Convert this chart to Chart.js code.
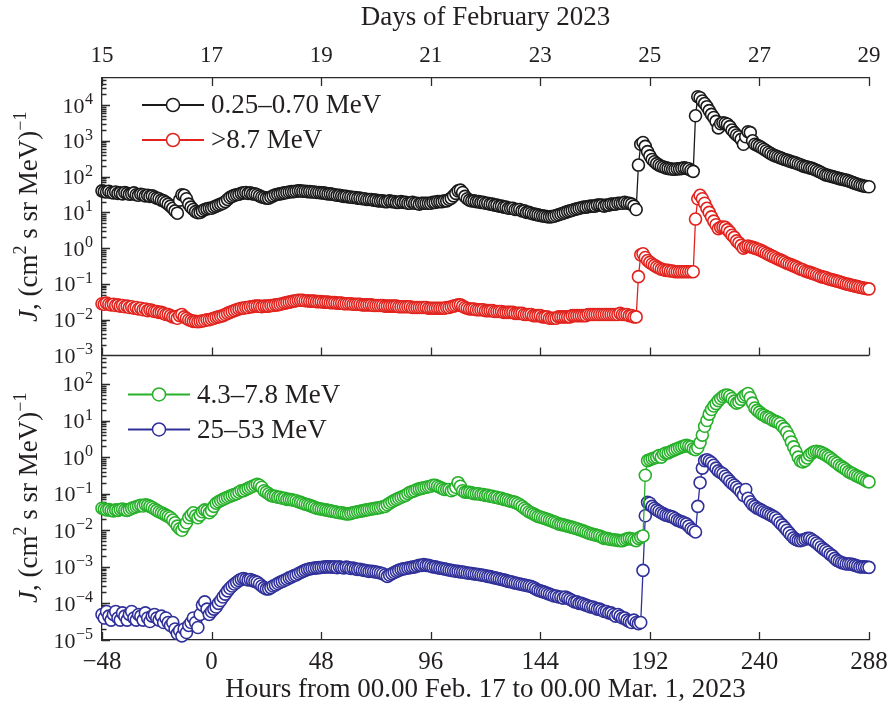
<!DOCTYPE html>
<html><head><meta charset="utf-8">
<script src="https://cdn.jsdelivr.net/npm/chart.js@4/dist/chart.umd.min.js"></script>
<style>html,body{margin:0;padding:0;background:#fff;}canvas{display:block;}</style>
</head><body>
<canvas id="c" width="891" height="705"></canvas>
<script>
// ---------- data ----------
const HOURS = Array.from({length: 337}, (_, i) => i - 48); // hours from 00.00 Feb 17
const X_TICKS = [-48, 0, 48, 96, 144, 192, 240, 288];
const DAY_LABELS = ['15', '17', '19', '21', '23', '25', '27', '29'];
const TOP_DECADES = [-3, -2, -1, 0, 1, 2, 3, 4];
const BOT_DECADES = [-5, -4, -3, -2, -1, 0, 1, 2];
const TOP_TITLE = 'Days of February 2023';
const X_TITLE = 'Hours from 00.00 Feb. 17 to 00.00 Mar. 1, 2023';
const NAMES = ['0.25\u20130.70 MeV', '>8.7 MeV', '4.3\u20137.8 MeV', '25\u201353 MeV'];

const E_LOW = [ // 0.25-0.70 MeV
40,38,37,39,36,35,37,34,35,33,36,34,32,33,35,31,30,32,31,29,30,28,29,27,
25,24,22,21,19,17,15,13,11,9.5,22,31,30,24,17,14,12,10.5,9.8,10,11,12,12.5,13,
13,14,15,16,17,18,20,23,26,28,30,31,32,34,35,36,34,35,33,33,31,29,27,26,
25,25,27,29,31,32,33,34,35,36,37,38,38,39,40,40,39,39,38,38,37,37,36,36,
35,35,34,33,33,32,31,30,30,29,28,28,27,27,26,26,25,25,24,24,23,23,23,22,
22,21,21,21,20,20,21,20,20,19,19,20,19,19,18,18,19,18,18,17,18,18,18,18,
18,19,19,20,20,20,21,21,23,25,29,34,40,42,36,28,24,22,21,21,20,20,19,19,
18,18,17,17,16,16,15,15,14,14,13,13,13,12,12,12,11,11,10,10,9.5,9,8.8,8.5,
8.2,8,7.8,7.6,7.5,7.6,7.8,8.2,8.6,9,9.5,10,10.5,11,11.5,12,12.5,13,13.5,14,14,14.5,15,15,
15,16,16,16,15,16,16,17,17,17,18,18,18,19,18,18,17,15,12,210,800,900,700,500,
380,300,260,230,210,195,185,175,170,165,160,160,165,165,170,175,170,165,150,140,5000,17000,16000,13000,
11000,9000,7000,5500,4500,3500,2300,3000,3200,3100,2900,2500,2000,1700,1450,1300,1100,800,1300,1800,1700,1000,800,750,
700,640,580,530,480,440,400,380,360,340,320,300,290,275,260,250,240,225,215,200,190,185,175,170,
160,150,140,130,120,112,108,104,100,96,92,88,85,82,80,76,72,68,64,61,58,56,54,53,52];

const E_GT87 = [ // >8.7 MeV
0.028,0.027,0.029,0.027,0.026,0.027,0.025,0.026,0.024,0.025,0.023,0.024,0.022,0.023,0.021,0.022,0.020,0.021,0.019,0.020,0.018,0.019,0.018,0.017,
0.017,0.016,0.016,0.015,0.014,0.014,0.013,0.012,0.012,0.011,0.013,0.014,0.012,0.011,0.010,0.0095,0.009,0.009,0.0088,0.009,0.0092,0.0095,0.010,0.010,
0.0105,0.011,0.0115,0.012,0.0125,0.013,0.014,0.015,0.016,0.017,0.018,0.019,0.020,0.021,0.021,0.022,0.022,0.023,0.023,0.024,0.024,0.024,0.023,0.024,
0.024,0.024,0.025,0.025,0.026,0.026,0.027,0.028,0.029,0.030,0.031,0.032,0.033,0.034,0.035,0.035,0.035,0.034,0.034,0.033,0.033,0.033,0.032,0.032,
0.032,0.031,0.031,0.031,0.030,0.030,0.030,0.029,0.029,0.029,0.028,0.028,0.028,0.028,0.027,0.027,0.027,0.027,0.026,0.026,0.026,0.026,0.026,0.025,
0.025,0.025,0.025,0.025,0.024,0.024,0.024,0.024,0.024,0.024,0.023,0.023,0.023,0.023,0.023,0.023,0.022,0.022,0.022,0.022,0.022,0.022,0.022,0.021,
0.021,0.021,0.021,0.021,0.021,0.021,0.021,0.022,0.022,0.023,0.024,0.025,0.026,0.026,0.024,0.022,0.021,0.020,0.020,0.020,0.019,0.019,0.019,0.019,
0.018,0.018,0.018,0.018,0.017,0.017,0.017,0.017,0.016,0.016,0.016,0.016,0.016,0.015,0.015,0.015,0.015,0.014,0.014,0.014,0.014,0.013,0.013,0.013,
0.013,0.012,0.012,0.012,0.011,0.011,0.011,0.011,0.012,0.012,0.012,0.012,0.012,0.012,0.013,0.013,0.013,0.013,0.013,0.013,0.013,0.014,0.014,0.014,
0.014,0.014,0.014,0.014,0.014,0.014,0.014,0.014,0.014,0.014,0.014,0.015,0.014,0.014,0.014,0.013,0.013,0.012,0.012,0.16,0.65,0.7,0.55,0.45,
0.40,0.36,0.33,0.30,0.28,0.26,0.25,0.24,0.24,0.23,0.23,0.22,0.22,0.22,0.22,0.22,0.22,0.22,0.22,0.22,6.5,24,30,24,
18,13,10,7.5,5.7,4.5,3.5,3.8,3.9,3.8,3.3,2.8,2.3,2.0,1.6,1.4,1.2,1.0,1.1,1.15,1.1,1.05,1.0,0.95,
0.90,0.84,0.78,0.72,0.67,0.62,0.58,0.54,0.50,0.47,0.44,0.41,0.38,0.36,0.34,0.32,0.30,0.28,0.26,0.25,0.23,0.22,0.21,0.20,
0.19,0.18,0.17,0.16,0.155,0.15,0.14,0.135,0.13,0.125,0.12,0.115,0.11,0.105,0.10,0.097,0.093,0.09,0.087,0.084,0.081,0.078,0.076,0.074,0.073];

const E_MID = [ // 4.3-7.8 MeV
0.040,0.038,0.036,0.037,0.035,0.034,0.036,0.035,0.037,0.038,0.036,0.035,0.037,0.040,0.042,0.044,0.046,0.048,0.046,0.050,0.048,0.045,0.042,0.038,
0.035,0.032,0.030,0.028,0.026,0.024,0.022,0.019,0.016,0.013,0.011,0.010,0.013,0.016,0.022,0.026,0.030,0.025,0.022,0.026,0.032,0.036,0.034,0.030,
0.035,0.045,0.055,0.060,0.065,0.070,0.075,0.080,0.085,0.090,0.095,0.10,0.11,0.12,0.12,0.13,0.14,0.15,0.16,0.17,0.18,0.17,0.15,0.12,
0.11,0.10,0.09,0.085,0.085,0.08,0.08,0.075,0.075,0.07,0.07,0.068,0.066,0.064,0.06,0.058,0.055,0.052,0.05,0.048,0.045,0.043,0.04,0.039,
0.038,0.037,0.036,0.035,0.034,0.033,0.032,0.031,0.030,0.030,0.029,0.028,0.028,0.029,0.030,0.031,0.032,0.033,0.034,0.035,0.036,0.037,0.038,0.039,
0.040,0.041,0.042,0.044,0.045,0.050,0.055,0.060,0.065,0.070,0.075,0.080,0.085,0.090,0.10,0.11,0.115,0.12,0.13,0.135,0.14,0.145,0.15,0.155,
0.16,0.17,0.17,0.16,0.15,0.14,0.13,0.13,0.13,0.12,0.13,0.15,0.20,0.16,0.12,0.11,0.11,0.11,0.105,0.10,0.10,0.10,0.095,0.095,
0.09,0.09,0.085,0.085,0.08,0.08,0.075,0.075,0.07,0.068,0.065,0.062,0.06,0.058,0.054,0.05,0.045,0.04,0.036,0.032,0.03,0.028,0.026,0.024,
0.023,0.022,0.021,0.020,0.019,0.018,0.017,0.016,0.015,0.0145,0.014,0.0135,0.013,0.0125,0.012,0.0115,0.011,0.0105,0.010,0.0095,0.009,0.0085,0.008,0.0078,
0.0075,0.0072,0.007,0.0065,0.006,0.006,0.0058,0.0056,0.0055,0.0054,0.0053,0.0052,0.0052,0.0055,0.0058,0.006,0.0058,0.0055,0.0052,0.006,0.0065,0.007,0.32,0.8,
0.85,0.9,0.95,1.0,1.1,1.0,1.2,1.3,1.3,1.4,1.5,1.6,1.7,1.8,1.9,2.0,2.1,2.0,1.9,1.7,1.6,1.8,2.5,4.0,
7,10,15,20,25,29,35,40,45,49,50,46,40,34,30,32,38,45,50,55,42,30,22,19,
17,15,14,12.6,12,11,10,9.5,9,8.3,7,6,4.8,3.6,2.6,1.9,1.4,1.0,0.78,0.74,0.8,0.95,1.15,1.3,
1.4,1.45,1.4,1.35,1.25,1.15,1.05,0.95,0.85,0.75,0.68,0.6,0.55,0.5,0.45,0.4,0.37,0.35,0.32,0.3,0.28,0.26,0.24,0.22,0.21];

const E_HIGH = [ // 25-53 MeV
5e-5,4e-5,6e-5,4.5e-5,3.5e-5,5e-5,6e-5,4e-5,3.5e-5,5.5e-5,4.5e-5,3.5e-5,5e-5,6e-5,4e-5,3.5e-5,5e-5,4.5e-5,3.5e-5,5.5e-5,4e-5,3.2e-5,4.5e-5,5e-5,
4e-5,3.5e-5,4.5e-5,3e-5,4e-5,3e-5,2.5e-5,3e-5,2e-5,1.5e-5,1.8e-5,1.3e-5,2e-5,1.6e-5,2.5e-5,3e-5,4e-5,3e-5,2.2e-5,5e-5,9e-5,1.1e-4,7e-5,5e-5,
6e-5,7e-5,8e-5,1e-4,1.2e-4,1.5e-4,1.8e-4,2.2e-4,2.6e-4,3e-4,3.4e-4,3.8e-4,4.2e-4,4.6e-4,4.8e-4,4.6e-4,4.4e-4,4.5e-4,4.2e-4,4e-4,3.8e-4,3.4e-4,3e-4,2.7e-4,
2.5e-4,2.5e-4,2.7e-4,3e-4,3.2e-4,3.5e-4,3.8e-4,4e-4,4.3e-4,4.6e-4,5e-4,5.3e-4,5.7e-4,6e-4,6.5e-4,7e-4,7.5e-4,8e-4,8.5e-4,8.8e-4,9e-4,9.2e-4,9.4e-4,9.5e-4,
9.6e-4,9.8e-4,1e-3,1e-3,1e-3,9.8e-4,1e-3,9.5e-4,1e-3,9.6e-4,9.4e-4,9.8e-4,9.5e-4,9e-4,9.2e-4,8.8e-4,8.5e-4,8.6e-4,8.2e-4,8e-4,7.8e-4,7.5e-4,7.6e-4,7.4e-4,
7.2e-4,7e-4,6.8e-4,6.5e-4,6e-4,5.5e-4,6e-4,6.5e-4,7e-4,7.5e-4,8e-4,8.5e-4,8.8e-4,9e-4,9.3e-4,9.5e-4,9.8e-4,1e-3,1.05e-3,1.1e-3,1.1e-3,1.15e-3,1.1e-3,1.1e-3,
1.05e-3,1e-3,1e-3,9.5e-4,9.2e-4,9e-4,8.8e-4,8.5e-4,8.2e-4,8e-4,7.8e-4,7.6e-4,7.5e-4,7.3e-4,7.2e-4,7e-4,6.8e-4,6.7e-4,6.6e-4,6.4e-4,6.3e-4,6.2e-4,6e-4,5.9e-4,
5.7e-4,5.5e-4,5.4e-4,5.2e-4,5e-4,4.9e-4,4.7e-4,4.5e-4,4.4e-4,4.2e-4,4e-4,3.9e-4,3.8e-4,3.6e-4,3.5e-4,3.4e-4,3.3e-4,3.2e-4,3.1e-4,3e-4,2.9e-4,2.7e-4,2.5e-4,2.3e-4,
2.2e-4,2.1e-4,2e-4,1.9e-4,1.8e-4,1.7e-4,1.6e-4,1.6e-4,1.5e-4,1.5e-4,1.4e-4,1.5e-4,1.4e-4,1.3e-4,1.2e-4,1.1e-4,1.1e-4,1e-4,1e-4,9.5e-5,9e-5,8.5e-5,8e-5,8e-5,
7.5e-5,7e-5,7e-5,6.5e-5,6e-5,6e-5,5.5e-5,5.5e-5,5e-5,4.5e-5,5e-5,4.5e-5,4e-5,4e-5,3.5e-5,3.2e-5,3e-5,3.5e-5,3e-5,2.8e-5,3e-5,8e-4,0.025,0.058,
0.055,0.045,0.04,0.036,0.033,0.03,0.028,0.026,0.025,0.024,0.023,0.021,0.019,0.018,0.017,0.016,0.015,0.013,0.011,0.01,0.009,0.045,0.2,0.5,
0.8,0.85,0.78,0.7,0.6,0.5,0.42,0.38,0.35,0.3,0.26,0.22,0.19,0.17,0.15,0.13,0.11,0.09,0.13,0.075,0.06,0.05,0.045,0.04,
0.038,0.035,0.032,0.03,0.028,0.026,0.024,0.022,0.019,0.016,0.014,0.012,0.010,0.0085,0.0072,0.0062,0.0056,0.0053,0.0052,0.0054,0.0057,0.006,0.006,0.0055,
0.005,0.0045,0.004,0.0035,0.0031,0.0028,0.0025,0.0022,0.002,0.0017,0.0015,0.0014,0.0013,0.00125,0.0012,0.0012,0.0012,0.00115,0.0011,0.00105,0.001,0.001,0.001,0.00098,0.00097];

// ---------- style ----------
const FONT = "'Liberation Serif', 'Times New Roman', serif";
const TXT = '#231f20';
const AXC = '#2b2b2b';
const COLORS = ['#1a1a1a', '#e2231d', '#27b02a', '#30309a'];

function series(label, vals, color, yID) {
  return {
    label, yAxisID: yID, xAxisID: 'x',
    data: HOURS.map((h, i) => ({x: h, y: vals[i]})),
    borderColor: color, borderWidth: 1.3,
    pointRadius: 6, pointHoverRadius: 6, pointBorderWidth: 1.6,
    pointBackgroundColor: '#ffffff', pointBorderColor: color,
    fill: false, tension: 0, clip: false
  };
}

function supText(e) { return e < 0 ? '\u2212' + (-e) : String(e); }

function drawYLabels(ctx, s, decades) {
  const XR = 93;
  decades.forEach(e => {
    const py = s.getPixelForValue(Math.pow(10, e));
    const t = supText(e);
    ctx.font = '16px ' + FONT;
    const ew = ctx.measureText(t).width;
    ctx.textAlign = 'left'; ctx.textBaseline = 'alphabetic';
    ctx.fillText(t, XR - ew, py - 1);
    ctx.font = '22px ' + FONT;
    ctx.textAlign = 'right';
    ctx.fillText('10', XR - ew - 0.5, py + 7.5);
  });
}

function drawYTitle(ctx, cx, cy) {
  const parts = [
    ['J', 'italic 27px ', 0], [', (cm', '27px ', 0], ['2', '18px ', -11],
    [' s sr MeV)', '27px ', 0], ['\u22121', '18px ', -11]
  ];
  ctx.save();
  ctx.translate(cx, cy); ctx.rotate(-Math.PI / 2);
  let total = 0;
  parts.forEach(p => { ctx.font = p[1] + FONT; p.w = ctx.measureText(p[0]).width; total += p.w; });
  let xx = -total / 2;
  ctx.textAlign = 'left'; ctx.textBaseline = 'alphabetic';
  parts.forEach(p => { ctx.font = p[1] + FONT; ctx.fillText(p[0], xx, p[2]); xx += p.w; });
  ctx.restore();
}

function drawLegend(ctx, idx, x0, y0) {
  idx.forEach((k, i) => {
    const y = y0 + i * 35;
    const c = COLORS[k];
    ctx.strokeStyle = c; ctx.lineWidth = 2;
    ctx.beginPath(); ctx.moveTo(x0, y); ctx.lineTo(x0 + 62, y); ctx.stroke();
    ctx.beginPath(); ctx.arc(x0 + 31, y, 6.5, 0, Math.PI * 2);
    ctx.fillStyle = '#fff'; ctx.fill(); ctx.lineWidth = 1.5; ctx.stroke();
    ctx.fillStyle = TXT; ctx.font = '27px ' + FONT;
    ctx.textAlign = 'left'; ctx.textBaseline = 'middle';
    ctx.fillText(NAMES[k], x0 + 69, y + 1);
  });
}

const decor = {
  id: 'decor',
  beforeDatasetsDraw(chart) {
    const {ctx, chartArea: {left, right, top, bottom}, scales} = chart;
    const x = scales.x, yT = scales.yTop, yB = scales.yBot;
    ctx.save();
    ctx.strokeStyle = AXC; ctx.lineWidth = 1.3;
    const sep = Math.round(yT.bottom) + 0.5;
    ctx.beginPath();
    ctx.moveTo(left, sep); ctx.lineTo(right, sep);
    X_TICKS.forEach(v => {
      const px = Math.round(x.getPixelForValue(v)) + 0.5;
      ctx.moveTo(px, bottom); ctx.lineTo(px, bottom - 8);
      ctx.moveTo(px, sep); ctx.lineTo(px, sep - 8);
      ctx.moveTo(px, top); ctx.lineTo(px, top + 8);
    });
    [[yT, TOP_DECADES], [yB, BOT_DECADES]].forEach(([s, dec]) => {
      const eMin = dec[0], eMax = dec[dec.length - 1] + 1;
      for (let e = eMin; e <= eMax; e++) {
        for (let k = 1; k < 10; k++) {
          const v = k * Math.pow(10, e);
          if (v < s.min * 0.999 || v > s.max * 1.001) continue;
          const py = Math.round(s.getPixelForValue(v)) + 0.5;
          const len = k === 1 ? 8 : 4.5;
          ctx.moveTo(left, py); ctx.lineTo(left + len, py);
        }
      }
    });
    ctx.stroke();
    ctx.restore();
  },
  afterDraw(chart) {
    const {ctx, scales} = chart;
    const yT = scales.yTop, yB = scales.yBot;
    ctx.save();
    ctx.fillStyle = TXT;
    drawYLabels(ctx, yT, TOP_DECADES);
    drawYLabels(ctx, yB, BOT_DECADES);
    drawYTitle(ctx, 37, (yT.top + yT.bottom) / 2);
    drawYTitle(ctx, 37, (yB.top + yB.bottom) / 2);
    drawLegend(ctx, [0, 1], 142, yT.top + 27);
    drawLegend(ctx, [2, 3], 128, yB.top + 39);
    ctx.restore();
  }
};

const titleFont = {family: FONT, size: 27, lineHeight: 1};

function noSidePad(s) { s.paddingLeft = 0; s.paddingRight = 0; }

new Chart(document.getElementById('c'), {
  type: 'line',
  data: {
    datasets: [
      series(NAMES[0], E_LOW, COLORS[0], 'yTop'),
      series(NAMES[1], E_GT87, COLORS[1], 'yTop'),
      series(NAMES[2], E_MID, COLORS[2], 'yBot'),
      series(NAMES[3], E_HIGH, COLORS[3], 'yBot')
    ]
  },
  options: {
    responsive: false, animation: false, devicePixelRatio: 1, events: [],
    layout: {padding: {left: 0, right: 22, top: 0, bottom: 0}},
    plugins: {legend: {display: false}, tooltip: {enabled: false}},
    scales: {
      x: {
        type: 'linear', position: 'bottom', min: -48, max: 288,
        afterBuildTicks: s => { s.ticks = X_TICKS.map(v => ({value: v})); },
        ticks: {font: {family: FONT, size: 25, lineHeight: 1}, color: TXT, padding: 9.5, maxRotation: 0, autoSkip: false,
          callback: v => (v < 0 ? '\u2212' + Math.abs(v) : String(v))},
        grid: {display: false, drawTicks: false},
        border: {display: true, color: AXC, width: 1.3},
        title: {display: true, text: X_TITLE, font: titleFont, color: TXT, padding: {top: 0, bottom: 1.5}},
        afterFit: s => { s.height = 65; noSidePad(s); }
      },
      xTop: {
        type: 'linear', position: 'top', min: -48, max: 288,
        afterBuildTicks: s => { s.ticks = X_TICKS.map(v => ({value: v})); },
        ticks: {font: {family: FONT, size: 23, lineHeight: 1}, color: TXT, padding: 11, maxRotation: 0, autoSkip: false,
          callback: (v, i) => DAY_LABELS[i]},
        grid: {display: false, drawTicks: false},
        border: {display: true, color: AXC, width: 1.3},
        title: {display: true, text: TOP_TITLE, font: titleFont, color: TXT, padding: {top: 4.5, bottom: 0}},
        afterFit: s => { s.height = 78; noSidePad(s); }
      },
      yBot: {
        type: 'logarithmic', position: 'left', stack: 'panels', stackWeight: 284,
        min: 1e-5, max: 600,
        ticks: {display: false}, grid: {display: false, drawTicks: false},
        border: {display: true, color: AXC, width: 1.3},
        afterFit: s => { s.width = 102; }
      },
      yTop: {
        type: 'logarithmic', position: 'left', stack: 'panels', stackWeight: 277,
        min: 1e-3, max: 5.7e4,
        ticks: {display: false}, grid: {display: false, drawTicks: false},
        border: {display: true, color: AXC, width: 1.3},
        afterFit: s => { s.width = 102; }
      }
    }
  },
  plugins: [decor]
});
</script>
</body></html>
